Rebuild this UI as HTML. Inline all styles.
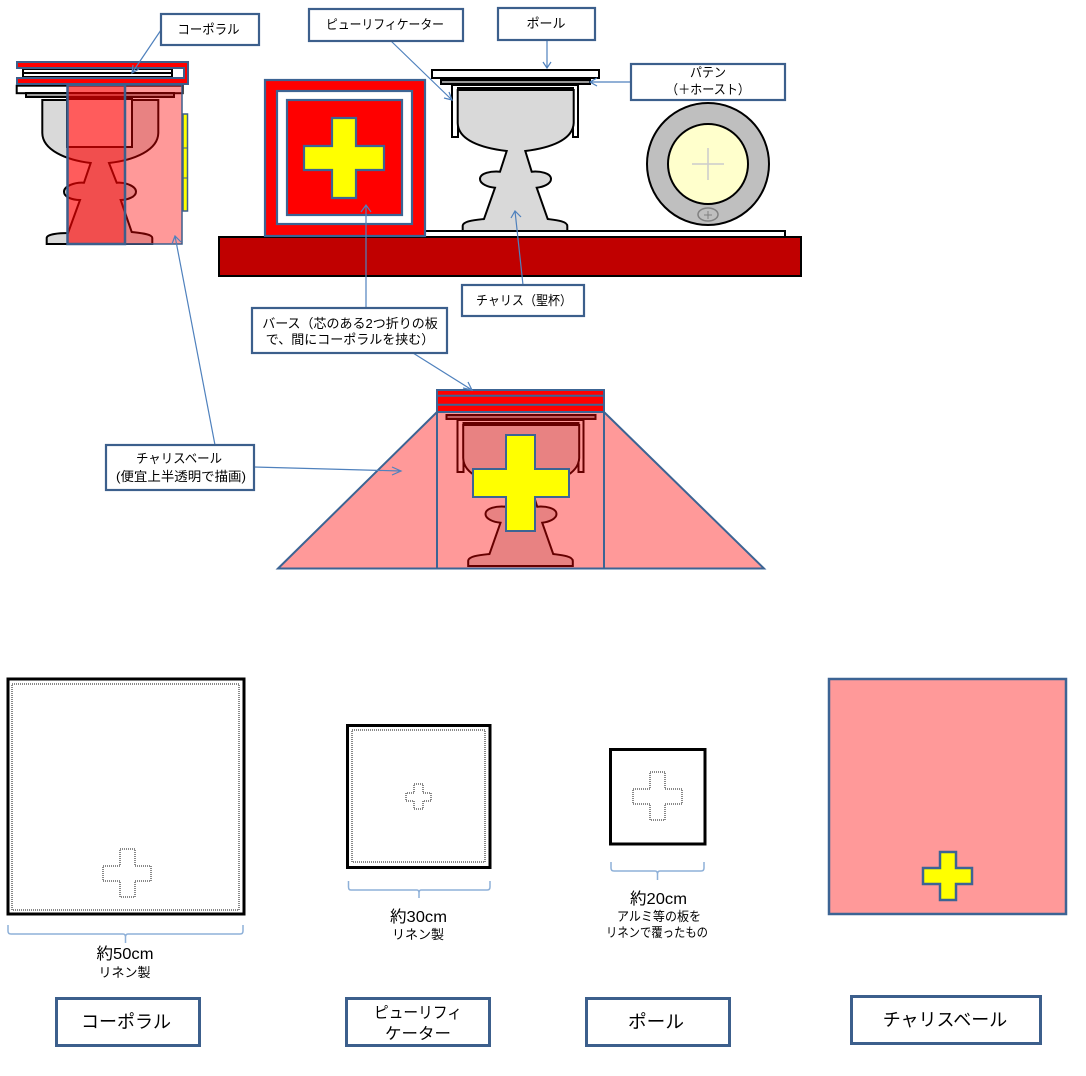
<!DOCTYPE html>
<html><head><meta charset="utf-8">
<style>
html,body{margin:0;padding:0;background:#fff;width:1086px;height:1076px;overflow:hidden}
svg{display:block}
text{font-family:"Liberation Sans","WenQuanYi Zen Hei","Noto Sans CJK JP",sans-serif;fill:#000;text-anchor:middle}
.a{fill:none;stroke:#4f81bd;stroke-width:1.2}
.box{fill:#fff;stroke:#3c5f8c;stroke-width:2.2}
.bb{fill:#fff;stroke:#3c5f8c;stroke-width:3}
.bl{stroke:#3c6494;stroke-width:2.2}
.k{stroke:#000;stroke-width:2}
.d{fill:none;stroke:#111;stroke-width:1;stroke-dasharray:1 1;shape-rendering:crispEdges}
.br{fill:none;stroke:#8eb0d8;stroke-width:1.5}
</style></head><body>
<svg width="1086" height="1076" viewBox="0 0 1086 1076" xmlns="http://www.w3.org/2000/svg">
<defs>
<path id="ch" class="k" fill="#d9d9d9" d="M457.7,90 H573.7 V123 C573,140 550,148 525.3,151 L531.7,171.7 C540,171 551,173 551,179 C551,184 543,187 536.7,187.7 L547.7,219 C555,220 567.3,221 567.3,226 V231 H462.7 V226 C462.7,221 475,220 484,219 L495,187.7 C488,187 480,184 480,179 C480,173 491,171 500,171.7 L506.7,151 C481,148 458,140 457.7,123 Z"/>
<path id="pu" class="k" fill="#fff" d="M452,85 H578 V137 H573 V88 H458 V137 H452 Z"/>
</defs>

<!-- altar -->
<rect x="425" y="231" width="360" height="6" fill="#fff" class="k"/>
<rect x="219" y="237" width="582" height="39" fill="#c00000" class="k"/>

<!-- burse front -->
<rect x="265" y="80" width="160" height="156" fill="#f00" class="bl"/>
<rect x="277" y="91" width="135" height="133" fill="#fff" class="bl"/>
<rect x="287" y="100" width="115" height="115" fill="#f00" class="bl"/>
<path d="M332,118 H356 V146 H384 V170 H356 V198 H332 V170 H304 V146 H332 Z" fill="#ff0" class="bl"/>

<!-- main chalice -->
<use href="#pu"/>
<use href="#ch"/>
<rect x="452" y="84" width="126" height="2" fill="#000"/>
<rect x="432" y="70" width="167" height="8" fill="#fff" class="k"/>
<rect x="441" y="80" width="149" height="4" fill="#999" class="k"/>

<!-- paten -->
<circle cx="708" cy="164" r="61" fill="#bfbfbf" class="k"/>
<circle cx="708" cy="164" r="40" fill="#ffc" class="k"/>
<path d="M692,164 H724 M708,148 V180" stroke="#ccc" stroke-width="1.5" fill="none"/>
<ellipse cx="708" cy="214.500" rx="10" ry="6.500" fill="#bfbfbf" stroke="#808080" stroke-width="1.500"/>
<path d="M704,215 H712 M708,211 V219" stroke="#808080" stroke-width="1" fill="none"/>

<!-- left side view -->
<path class="k" fill="#d9d9d9" d="M42.300,100 H158.300 V133 C158,150 135,160 109,163 L116.700,182.700 C125,182 136,186 136,191.700 C136,197 127,200 120.700,200 L131.700,232 C140,233 152.300,234 152.300,238 V244 H46.700 V238 C46.700,234 60,233 68,233 L80,200 C72,200 64,197 64,191.700 C64,186 75,182 84,182.700 L90.700,163 C66,160 42.500,150 42.300,133 Z"/>
<rect x="67" y="99" width="65" height="48" fill="#fff" stroke="#000" stroke-width="2"/>
<rect x="16.700" y="85.700" width="166" height="7.500" fill="#fff" class="k"/>
<rect x="26" y="93" width="148" height="4" fill="#999" class="k"/>
<rect x="23" y="69" width="149" height="4" fill="#fff" class="k"/>
<rect x="23" y="73" width="149" height="4" fill="#fff" class="k"/>
<path d="M17,62 H188 V84 H17 V78 H184 V68 H17 Z" fill="#f00" stroke="#3c5f8c" stroke-width="2"/>
<rect x="183" y="114" width="4.500" height="97" fill="#ff0" stroke="#3c5f8c" stroke-width="1.500"/>
<path d="M183,148 H187.500 M183,178 H187.500" stroke="#3c5f8c" stroke-width="1"/>
<rect x="67.500" y="85" width="114.500" height="159" fill="#f00" fill-opacity=".4" stroke="#3c5f8c" stroke-width="1.500"/>
<rect x="67.500" y="85" width="57.500" height="159" fill="#f00" fill-opacity=".4" stroke="#3c5f8c" stroke-width="2.500"/>

<!-- middle front view -->
<g transform="translate(5.500,335)">
<use href="#pu"/>
<use href="#ch"/>
<rect x="452" y="84" width="126" height="2" fill="#000"/>
<rect x="441" y="80" width="149" height="4" fill="#999" class="k"/>
</g>
<path d="M278,568.500 L437,412 H604 L764,568.500 Z" fill="#f00" fill-opacity=".4" stroke="#3c6494" stroke-width="2"/>
<path d="M437,412 V568.500 M604,412 V568.500" stroke="#3c6494" stroke-width="2" fill="none"/>
<path d="M506,435 H535 V469 H569 V497 H535 V531 H506 V497 H473 V469 H506 Z" fill="#ff0" stroke="#3c6494" stroke-width="2"/>
<rect x="437" y="390" width="167" height="22" fill="#f00" stroke="#3c6494" stroke-width="2"/>
<path d="M437,395.700 H604 M437,404.700 H604" stroke="#3c6494" stroke-width="2"/>

<!-- bottom squares -->
<rect x="8" y="679" width="236" height="235" fill="#fff" stroke="#000" stroke-width="3"/>
<rect x="12" y="684" width="227" height="226" class="d"/>
<path class="d" d="M120,849 H135 V866 H151 V881 H135 V897 H120 V881 H103 V866 H120 Z"/>
<rect x="347.500" y="725.500" width="142.500" height="142" fill="#fff" stroke="#000" stroke-width="3"/>
<rect x="352" y="730" width="133" height="132" class="d"/>
<path class="d" d="M414,784 H423 V793 H431 V801 H423 V809 H414 V801 H406 V793 H414 Z"/>
<rect x="610.500" y="749.500" width="94.500" height="94.500" fill="#fff" stroke="#000" stroke-width="3"/>
<path class="d" d="M650,772 H665 V789 H682 V804 H665 V820 H650 V804 H633 V789 H650 Z"/>
<rect x="829" y="679" width="237" height="235" fill="#ff9999" stroke="#3c6494" stroke-width="2.500"/>
<path d="M940,852 H956 V868 H972 V884 H956 V900 H940 V884 H923 V868 H940 Z" fill="#ff0" stroke="#3c6494" stroke-width="2.500"/>

<!-- braces -->
<path class="br" d="M8,925 V931 Q8,934 11,934 H123 Q125.500,934 125.500,937 V943 M125.500,937 Q125.500,934 128,934 H240 Q243,934 243,931 V925"/>
<path class="br" d="M348.500,881 V887 Q348.500,890 351,890 H417 Q419,890 419,893 V898 M419,893 Q419,890 421,890 H487 Q490,890 490,887 V881"/>
<path class="br" d="M611,862 V868 Q611,871 614,871 H655 Q657.500,871 657.500,874 V880 M657.500,874 Q657.500,871 660,871 H701 Q704,871 704,868 V862"/>

<!-- connectors -->
<path class="a" d="M161,30 L132,73 M133,65 L132,73 L139,69"/>
<path class="a" d="M391,41 L452,100 M444,98 L452,100 L449,92"/>
<path class="a" d="M547,40 V68 M543,62 L547,68 L551,62"/>
<path class="a" d="M631,82 H590 M597,78 L590,82 L597,86"/>
<path class="a" d="M523,285 L515,211 M511,218 L515,211 L521,217"/>
<path class="a" d="M366,308 V205 M361,212 L366,205 L371,212"/>
<path class="a" d="M413,353 L472,390 M463,388 L472,390 L468,382"/>
<path class="a" d="M215,445 L175,236 M172,244 L175,236 L181,242"/>
<path class="a" d="M254,467 L401,471 M392,467 L401,471 L392,475"/>

<!-- callout boxes -->
<rect class="box" x="161" y="14" width="98" height="31"/>
<text x="208.500" y="34" font-size="13" textLength="62" lengthAdjust="spacingAndGlyphs">コーポラル</text>
<rect class="box" x="309" y="9" width="154" height="32"/>
<text x="385" y="29" font-size="13" textLength="118" lengthAdjust="spacingAndGlyphs">ピューリフィケーター</text>
<rect class="box" x="498" y="8" width="97" height="32"/>
<text x="546" y="28" font-size="13" textLength="39" lengthAdjust="spacingAndGlyphs">ポール</text>
<rect class="box" x="631" y="64" width="154" height="36"/>
<text x="708" y="77" font-size="13" textLength="36" lengthAdjust="spacingAndGlyphs">パテン</text>
<text x="708" y="94" font-size="13" textLength="84" lengthAdjust="spacingAndGlyphs">（＋ホースト）</text>
<rect class="box" x="462" y="285" width="122" height="31"/>
<text x="524" y="305" font-size="13" textLength="96" lengthAdjust="spacingAndGlyphs">チャリス（聖杯）</text>
<rect class="box" x="252" y="308" width="195" height="45"/>
<text x="350" y="328" font-size="13">バース（芯のある2つ折りの板</text>
<text x="350" y="344" font-size="13">で、間にコーポラルを挟む）</text>
<rect class="box" x="106" y="445" width="148" height="45"/>
<text x="179" y="463" font-size="13" textLength="86" lengthAdjust="spacingAndGlyphs">チャリスベール</text>
<text x="181" y="481" font-size="13" textLength="130" lengthAdjust="spacingAndGlyphs">(便宜上半透明で描画)</text>

<!-- dimension text -->
<text x="125" y="959" font-size="16" textLength="57" lengthAdjust="spacingAndGlyphs">約50cm</text>
<text x="124.500" y="977" font-size="13">リネン製</text>
<text x="418.500" y="922" font-size="16" textLength="57" lengthAdjust="spacingAndGlyphs">約30cm</text>
<text x="418" y="939" font-size="13">リネン製</text>
<text x="658.500" y="904" font-size="16" textLength="57" lengthAdjust="spacingAndGlyphs">約20cm</text>
<text x="659" y="921" font-size="13" textLength="84" lengthAdjust="spacingAndGlyphs">アルミ等の板を</text>
<text x="657" y="937" font-size="13" textLength="102" lengthAdjust="spacingAndGlyphs">リネンで覆ったもの</text>

<!-- bottom labels -->
<rect class="bb" x="56.500" y="998.500" width="143" height="47"/>
<text x="126" y="1028" font-size="18">コーポラル</text>
<rect class="bb" x="346.500" y="998.500" width="143" height="47"/>
<text x="418" y="1018" font-size="16" textLength="88" lengthAdjust="spacingAndGlyphs">ピューリフィ</text>
<text x="418" y="1039" font-size="16" textLength="66" lengthAdjust="spacingAndGlyphs">ケーター</text>
<rect class="bb" x="586.500" y="998.500" width="143" height="47"/>
<text x="656" y="1028" font-size="18" textLength="56" lengthAdjust="spacingAndGlyphs">ポール</text>
<rect class="bb" x="851.500" y="996.500" width="189" height="47"/>
<text x="945" y="1026" font-size="18">チャリスベール</text>
</svg>
</body></html>
